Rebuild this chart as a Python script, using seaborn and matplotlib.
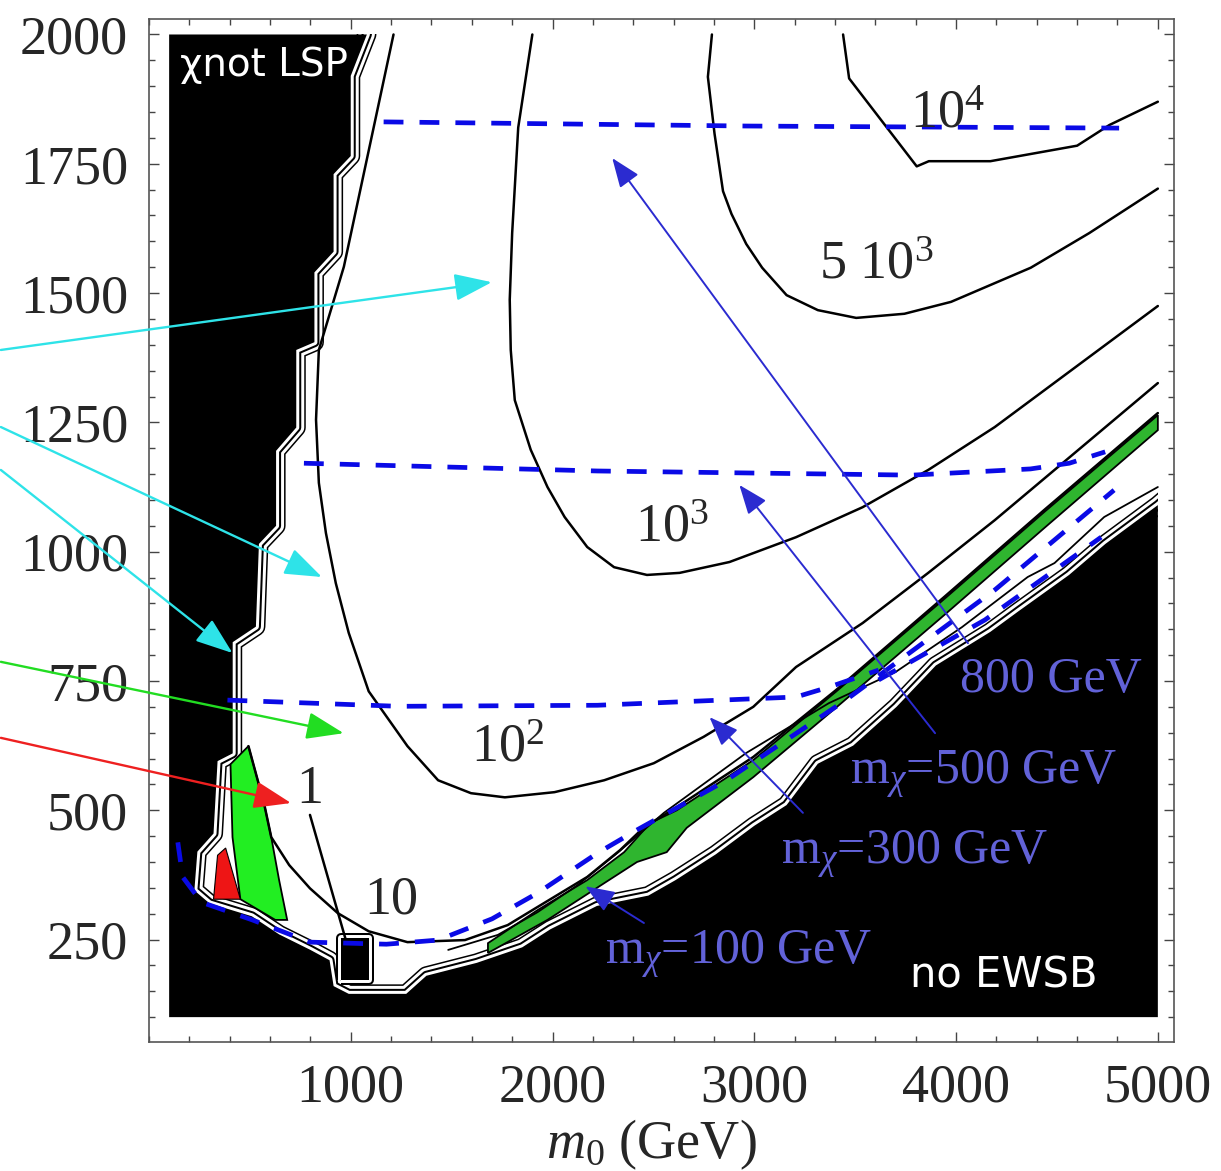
import pandas as pd
import numpy as np
import seaborn as sns
import matplotlib.pyplot as plt
import matplotlib.patheffects as pe
from matplotlib.patches import Rectangle, FancyArrowPatch
from matplotlib.ticker import MultipleLocator

sns.set_style("ticks")
plt.rcParams["font.family"] = ["Liberation Serif", "DejaVu Serif"]
plt.rcParams["mathtext.fontset"] = "custom"
plt.rcParams["mathtext.rm"] = "Liberation Serif"
plt.rcParams["mathtext.it"] = "Liberation Serif:italic"
plt.rcParams["mathtext.bf"] = "Liberation Serif:bold"


# edge of the allowed region (m0, m1/2), stau-LSP side then no-EWSB staircase
edge = [(1085, 2040), (1080, 2000), (1000, 1920), (1000, 1765), (915, 1730),
        (915, 1580), (820, 1540), (820, 1405), (730, 1390), (730, 1240),
        (630, 1195), (630, 1050), (545, 1015), (530, 855), (415, 825),
        (415, 610), (340, 595), (320, 455), (240, 420), (225, 345),
        (300, 320), (510, 295), (645, 260), (800, 230), (895, 210),
        (915, 160), (990, 145), (1275, 145), (1375, 180), (1625, 205),
        (1850, 235), (1990, 270), (2220, 315), (2475, 335), (2610, 365),
        (2810, 415), (3000, 470), (3160, 510), (3315, 590), (3490, 625),
        (3705, 700), (3900, 780), (4170, 845), (4310, 885), (4560, 955),
        (4740, 1015), (5000, 1090), (5060, 1110)]

notch = [(951, 172), (1089, 172), (1089, 253), (951, 253), (951, 172)]

# fine-tuning contours
c_1e4 = [(3440, 2000), (3470, 1915), (3805, 1745), (3865, 1755), (4170, 1755),
         (4600, 1785), (4760, 1825), (5000, 1870)]
c_5e3 = [(2790, 2000), (2770, 1918), (2803, 1808), (2845, 1697), (2887, 1653),
         (2960, 1595), (3039, 1549), (3160, 1496), (3315, 1467), (3505, 1452),
         (3744, 1460), (3975, 1483), (4370, 1549), (4660, 1616), (5000, 1702)]
c_1e3 = [(1900, 2000), (1830, 1820), (1800, 1616), (1788, 1487), (1793, 1390),
         (1813, 1293), (1892, 1197), (1975, 1125), (2060, 1067), (2172, 1009),
         (2305, 970), (2468, 955), (2630, 959), (2877, 980), (3207, 1028),
         (3537, 1086), (3862, 1158), (4192, 1241), (5000, 1475)]
c_1e2 = [(1212, 2000), (1108, 1810), (966, 1551), (842, 1390), (828, 1255),
         (842, 1133), (877, 1036), (926, 939), (990, 843), (1089, 730),
         (1281, 624), (1433, 558), (1596, 533), (1764, 525), (2010, 535),
         (2256, 558), (2502, 591), (2749, 642), (2995, 700), (3207, 777),
         (3537, 862), (3862, 959), (4192, 1061), (5000, 1326)]
c_10 = [(493, 624), (571, 512), (606, 448), (695, 394), (798, 349), (936, 301),
        (1089, 266), (1281, 245), (1566, 249), (1778, 278), (1926, 313),
        (2172, 371), (2335, 423), (2453, 467), (2616, 506), (2995, 603),
        (3404, 732), (3946, 914), (4438, 1081), (5000, 1268)]
c_1 = [(798, 491), (1030, 175)]
c_edge = [(1483, 230), (1729, 259), (1926, 303), (2123, 355), (2320, 417),
          (2552, 495), (2961, 611), (3369, 707), (3699, 767), (4029, 854),
          (4355, 951), (4488, 978), (4734, 1067), (5000, 1125)]

# relic-density bands
green_band = [(1680, 243), (1926, 307), (2172, 365), (2355, 419), (2483, 475),
              (2616, 500), (2995, 597), (3404, 729), (3946, 910), (4438, 1077),
              (5000, 1264), (5000, 1235), (4438, 1046), (3946, 879), (3404, 698),
              (2995, 564), (2665, 466), (2566, 419), (2419, 400), (2256, 359),
              (1975, 288), (1680, 224)]
green_blob = [(404, 589), (493, 624), (532, 568), (571, 512), (606, 448),
              (645, 365), (685, 288), (626, 288), (453, 328), (414, 448)]
red_blob = [(320, 328), (340, 413), (380, 427), (453, 328)]

# neutralino mass contours
mchi_100 = [(143, 438), (167, 371), (261, 322), (512, 288), (798, 245),
            (1177, 241), (1433, 249), (1700, 290), (1926, 340), (2222, 417),
            (2419, 462), (2862, 558), (3453, 713), (4192, 926), (4783, 1119)]
mchi_300 = [(389, 713), (1236, 701), (2222, 703), (3207, 719), (3369, 738),
            (3616, 771)]
mchi_300_low = [(3616, 752), (4143, 868), (4719, 1028)]
mchi_500 = [(768, 1171), (2222, 1156), (3783, 1148), (4369, 1160), (4561, 1171),
            (4739, 1193)]
mchi_800 = [(1163, 1831), (2960, 1823), (4808, 1819)]

mchi_labels = ["m$_\\chi$=100 GeV", "m$_\\chi$=300 GeV", "m$_\\chi$=500 GeV", "800 GeV"]
mchi_label_pos = [(2921, 220), (3793, 413), (4137, 568), (4468, 752)]
mchi_arrows = [((2453, 282), (2163, 353)), ((3241, 495), (2778, 680)),
               ((3896, 649), (2926, 1129)), ((4059, 823), (2296, 1761))]

ft_labels = ["1", "10", "10$^2$", "10$^3$", "5 10$^3$", "10$^4$"]
ft_label_pos = [(798, 539), (1202, 326), (1778, 620), (2591, 1046),
                (3606, 1554), (3956, 1845)]

pointer_colors = ["#2ee3e8", "#2ee3e8", "#2ee3e8", "#22dd22", "#ee2020"]
pointers = [((-734, 1390), (1699, 1521)), ((-734, 1241), (857, 951)),
            ((-734, 1158), (414, 804)), ((-734, 787), (965, 649)),
            ((-734, 640), (704, 514))]


fig = plt.figure(figsize=(12.21, 11.71), dpi=100)
ax = fig.add_axes([0.1220, 0.1102, 0.8395, 0.8736])
ax.set_facecolor("white")


def draw(points, **kw):
    d = pd.DataFrame(points, columns=["m0", "m12"])
    sns.lineplot(data=d, x="m0", y="m12", sort=False, estimator=None,
                 legend=False, ax=ax, **kw)
    return ax.lines[-1]


stripes = [
    pe.Stroke(linewidth=13.7, foreground="black", joinstyle="round", capstyle="butt"),
    pe.Stroke(linewidth=11.5, foreground="white", joinstyle="round", capstyle="butt"),
    pe.Stroke(linewidth=7.2, foreground="black", joinstyle="round", capstyle="butt"),
    pe.Stroke(linewidth=4.3, foreground="white", joinstyle="round", capstyle="butt"),
]

# striped edge of the excluded region
box = Rectangle((100, 100), 4900, 1900, transform=ax.transData)
stripe = draw(edge, color="white", linewidth=0.5, zorder=1)
stripe.set_path_effects(stripes)
stripe.set_clip_path(box)
notch_line = draw(notch, color="white", linewidth=0.5, zorder=1)
notch_line.set_path_effects(stripes[2:])

excluded = [(100, 2000)] + edge[1:-1] + [(5000, 100), (100, 100)]
ax.fill(*zip(*excluded), color="black", lw=0, zorder=2)
ax.fill(*zip(*notch), color="black", lw=0, zorder=2)

ax.fill(*zip(*green_band), facecolor="#2fb52f", edgecolor="black", lw=1.3, zorder=3)
ax.fill(*zip(*green_blob), facecolor="#22ee22", edgecolor="black", lw=1.3, zorder=3)
ax.fill(*zip(*red_blob), facecolor="#ee1515", edgecolor="black", lw=0.8, zorder=3)

for c in [c_1e4, c_5e3, c_1e3, c_1e2, c_10, c_1]:
    draw(c, color="black", linewidth=1.8, zorder=4)
draw(c_edge, color="black", linewidth=1.3, zorder=4)

for c in [mchi_100, mchi_300, mchi_300_low, mchi_500, mchi_800]:
    draw(c, color="#0a0ae6", linewidth=3.4, linestyle=(0, (4.2, 3.4)), zorder=5)

for s, (x, y) in zip(ft_labels, ft_label_pos):
    ax.text(x, y, s, fontsize=39, ha="center", va="center", zorder=6)

for s, (x, y) in zip(mchi_labels, mchi_label_pos):
    ax.text(x, y, s, fontsize=36, color="#6262d8", ha="center", va="center", zorder=6)

for (tail, head) in mchi_arrows:
    ax.add_patch(FancyArrowPatch(tail, head, arrowstyle="-|>,head_length=0.9,head_width=0.35",
                                 mutation_scale=20, color="#2b2bd0", lw=1.4,
                                 shrinkA=0, shrinkB=0, zorder=7))

for col, (tail, head) in zip(pointer_colors, pointers):
    ax.add_patch(FancyArrowPatch(tail, head, arrowstyle="-|>,head_length=1.15,head_width=0.42",
                                 mutation_scale=20, color=col, lw=1.7,
                                 shrinkA=0, shrinkB=0, zorder=8, clip_on=False))

ax.text(153, 1941, "χnot LSP", color="white", fontsize=28, family="DejaVu Sans",
        ha="left", va="center", zorder=6)
ax.text(3773, 181, "no EWSB", color="white", fontsize=30, family="DejaVu Sans",
        ha="left", va="center", zorder=6)

ax.set_xlim(0, 5080)
ax.set_ylim(52, 2030)
ax.xaxis.set_major_locator(MultipleLocator(1000))
ax.xaxis.set_minor_locator(MultipleLocator(200))
ax.yaxis.set_major_locator(MultipleLocator(250))
ax.yaxis.set_minor_locator(MultipleLocator(50))
ax.set_xticks([1000, 2000, 3000, 4000, 5000])
ax.set_yticks([250, 500, 750, 1000, 1250, 1500, 1750, 2000])
ax.tick_params(which="both", direction="in", top=True, right=True,
               color="#444444", width=1)
ax.tick_params(which="major", length=7, labelsize=39, pad=15)
ax.tick_params(which="minor", length=4)
for sp in ax.spines.values():
    sp.set_color("#555555")
    sp.set_linewidth(1.2)

ax.set_ylabel("")
ax.set_xlabel("$m_0$ (GeV)", fontsize=39)
ax.xaxis.set_label_coords(0.49, -0.10)
ax.xaxis.label.set_va("center")

fig.savefig("out.png", dpi=100)
